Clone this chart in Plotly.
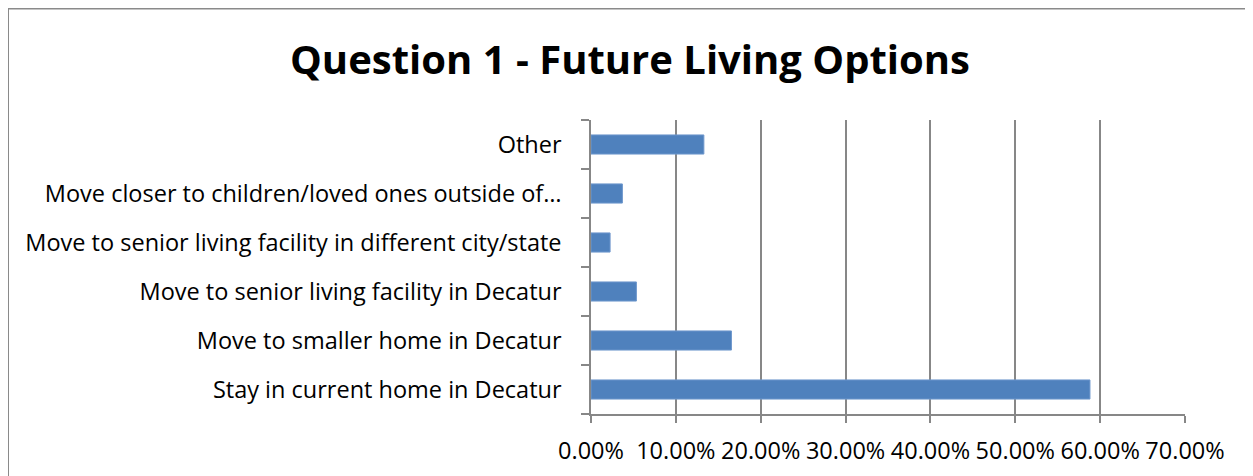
import plotly.graph_objects as go

categories = [
    "Stay in current home in Decatur",
    "Move to smaller home in Decatur",
    "Move to senior living facility in Decatur",
    "Move to senior living facility in different city/state",
    "Move closer to children/loved ones outside of…",
    "Other",
]
values = [0.588, 0.1655, 0.0535, 0.0225, 0.037, 0.133]
x_ticks = [0, 0.1, 0.2, 0.3, 0.4, 0.5, 0.6, 0.7]

GRID = "#878787"
FONT = "Open Sans"

fig = go.Figure(
    go.Bar(
        x=values,
        y=categories,
        orientation="h",
        marker=dict(color="#4F81BD", line=dict(color="#6E97CC", width=1)),
    )
)

# page body has an 8px margin; figure coordinates are page coordinates - 8
W, H = 1253, 476
L, R, T, B = 583, 76, 112, 70
pw, ph = W - L - R, H - T - B


def px_x(p):
    return (p - L) / pw


def px_y(p):
    return (H - B - p) / ph


fig.update_layout(
    width=W,
    height=H,
    margin=dict(l=L, r=R, t=T, b=B, autoexpand=False),
    paper_bgcolor="white",
    plot_bgcolor="white",
    bargap=0.61,
    showlegend=False,
    title=dict(
        text="<b>Question 1 - Future Living Options</b>",
        x=622 / W,
        xanchor="center",
        y=1 - 52 / H,
        yanchor="middle",
        yref="container",
        font=dict(family=FONT, size=40, color="black"),
    ),
    font=dict(family=FONT, color="black"),
    shapes=[
        dict(
            type="rect",
            xref="paper",
            yref="paper",
            x0=px_x(0),
            x1=px_x(1300),
            y0=px_y(520),
            y1=px_y(0.5),
            line=dict(color="#8a8a8a", width=2),
            fillcolor="rgba(0,0,0,0)",
            layer="below",
        )
    ],
)

fig.update_xaxes(
    range=[0, 0.7],
    tickvals=x_ticks,
    tickformat=".2%",
    showgrid=True,
    gridcolor=GRID,
    gridwidth=1.5,
    showline=True,
    linecolor=GRID,
    linewidth=1.5,
    ticks="outside",
    ticklen=7,
    tickcolor=GRID,
    tickwidth=1.5,
    ticklabelstandoff=8,
    tickfont=dict(family=FONT, size=23.5, color="black"),
    zeroline=False,
    fixedrange=True,
)

fig.update_yaxes(
    showgrid=False,
    showline=True,
    linecolor=GRID,
    linewidth=1.5,
    ticks="outside",
    tickson="boundaries",
    ticklen=8,
    tickcolor=GRID,
    tickwidth=1.5,
    ticklabelstandoff=23,
    tickfont=dict(family=FONT, size=23.5, color="black"),
    fixedrange=True,
)

fig.write_html("out.html")
